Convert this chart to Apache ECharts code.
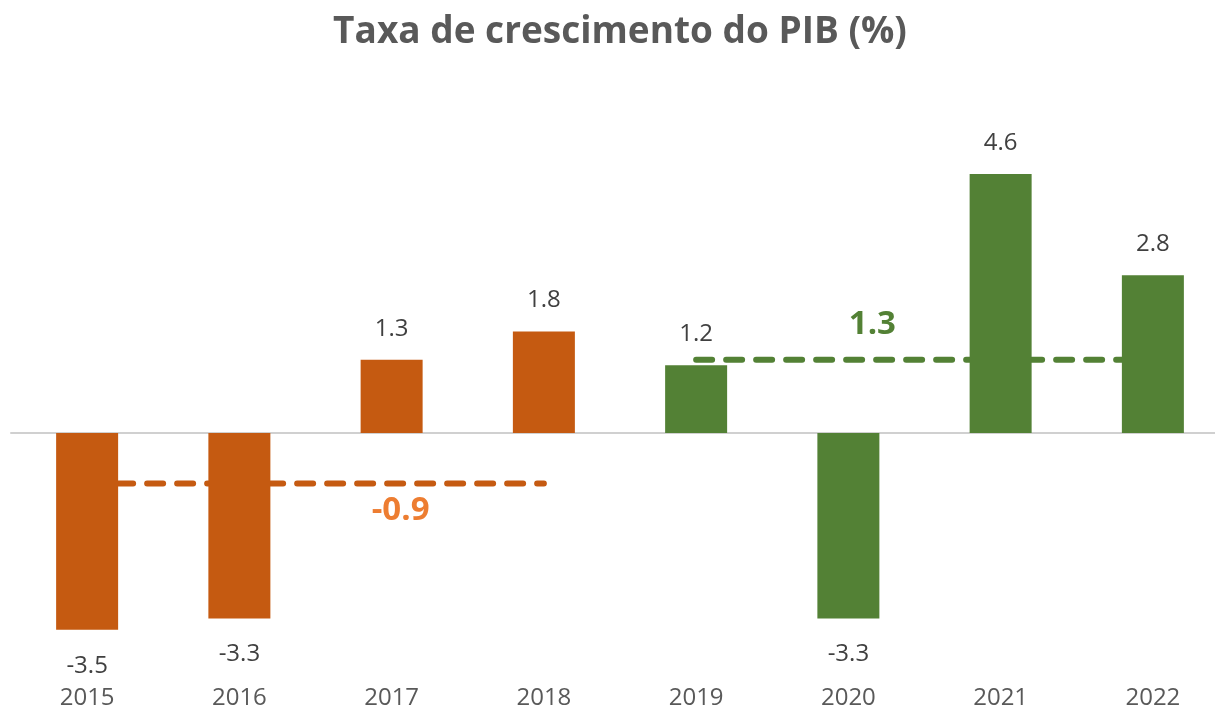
<!DOCTYPE html>
<html>
<head>
<meta charset="utf-8">
<script src="https://cdn.jsdelivr.net/npm/echarts@6/dist/echarts.min.js"></script>
<style>html,body{margin:0;padding:0;background:#fff;overflow:hidden;width:1215px;height:710px}#c{width:1232px;height:710px}</style>
</head>
<body>
<div id="c"></div>
<script>
const years = ['2015','2016','2017','2018','2019','2020','2021','2022'];
const growth = [-3.5, -3.3, 1.3, 1.8, 1.2, -3.3, 4.6, 2.8];
const avgFirst = [-0.9, -0.9, -0.9, -0.9, null, null, null, null];
const avgSecond = [null, null, null, null, 1.3, 1.3, 1.3, 1.3];
const firstPeriodCount = 4;

const ORANGE = '#C55A11';
const GREEN = '#538135';
const FONT = '"Open Sans", sans-serif';

const barData = growth.map((v, i) => ({
  value: v,
  itemStyle: { color: i < firstPeriodCount ? ORANGE : GREEN },
  label: { position: v >= 0 ? 'top' : 'bottom', distance: v >= 0 ? 19 : 24 }
}));

const avgLabel = (color, pos, dist, off) => ({
  show: true, position: pos, distance: dist, offset: off, color: color,
  fontSize: 33, fontWeight: 'bold', fontFamily: FONT,
  formatter: p => Number(p.value).toFixed(1)
});
const lineA = avgFirst.map((v, i) => i === 2 ? { value: v, label: avgLabel('#ED7D31', 'bottom', 11, [9, 0]) } : v);
const lineB = avgSecond.map((v, i) => i === 5 ? { value: v, label: avgLabel(GREEN, 'top', 19, [24, 0]) } : v);

const chart = echarts.init(document.getElementById('c'));
chart.setOption({
  animation: false,
  backgroundColor: '#fff',
  title: {
    text: 'Taxa de crescimento do PIB (%)',
    left: 615, top: 9, textAlign: 'center',
    textStyle: { fontFamily: FONT, fontSize: 37, fontWeight: 'bold', color: '#595959' }
  },
  grid: { left: 11, width: 1218, top: 151.5, height: 510.5 },
  xAxis: [{
    type: 'category', data: years, position: 'bottom',
    axisLine: { show: false, onZero: false }, axisTick: { show: false },
    axisLabel: { fontFamily: FONT, fontSize: 24, color: '#595959', margin: 28 }
  }, {
    type: 'category', data: years, position: 'bottom',
    axisLine: { show: true, onZero: true, lineStyle: { color: '#D0D0D0', width: 2 } },
    axisTick: { show: false }, axisLabel: { show: false }
  }],
  yAxis: { type: 'value', min: -4, max: 5, show: false, splitLine: { show: false } },
  series: [{
    type: 'line', data: lineA, z: 1, symbol: 'circle', symbolSize: 0, showSymbol: true, showAllSymbol: true, silent: true,
    itemStyle: { color: ORANGE },
    lineStyle: { color: ORANGE, width: 6, type: [16, 14], cap: 'round' }
  }, {
    type: 'line', data: lineB, z: 1, symbol: 'circle', symbolSize: 0, showSymbol: true, showAllSymbol: true, silent: true,
    itemStyle: { color: GREEN },
    lineStyle: { color: GREEN, width: 6, type: [16, 14], cap: 'round' }
  }, {
    type: 'bar', data: barData, z: 3, barWidth: 62,
    label: { show: true, fontFamily: FONT, fontSize: 24, color: '#404040', formatter: p => p.value.toFixed(1) }
  }]
});
</script>
</body>
</html>
